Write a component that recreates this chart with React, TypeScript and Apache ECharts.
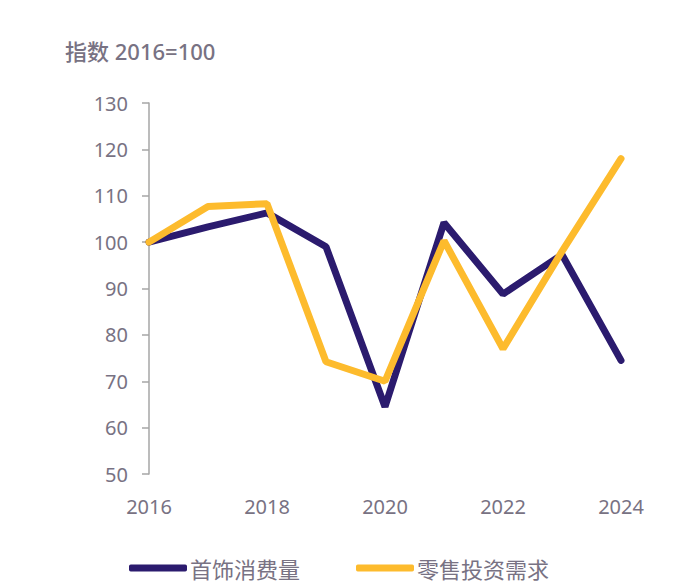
import React, { useEffect, useRef } from "react";
import * as echarts from "echarts";

const years = ["2016", "2017", "2018", "2019", "2020", "2021", "2022", "2023", "2024"];
const jewelleryValues = [100, 103.3, 106.3, 99, 64.5, 104.2, 88.8, 97.3, 74.5];
const retailInvestValues = [100, 107.7, 108.3, 74.2, 70, 100.3, 77, 98, 118];
const seriesNames = ["首饰消费量", "零售投资需求"];
const yAxisTitle = "指数 2016=100";

const TEXT = "#787283";
const FONT = "'Noto Sans', 'Noto Sans CJK SC', sans-serif";

export default function App() {
  const ref = useRef<HTMLDivElement>(null);
  useEffect(() => {
    if (!ref.current) return;
    const chart = echarts.init(ref.current, null, { renderer: "svg" });
    chart.setOption({
      animation: false,
      backgroundColor: "#ffffff",
      textStyle: { fontFamily: FONT },
      title: {
        text: yAxisTitle,
        left: 60,
        top: 35,
        textStyle: { color: TEXT, fontSize: 22, fontWeight: 500, fontFamily: FONT },
      },
      grid: { left: 149, right: 79, top: 103, bottom: 110, containLabel: false },
      legend: {
        left: 124,
        top: 552,
        itemGap: 56,
        itemWidth: 58,
        itemHeight: 7,
        icon: "roundRect",
        textStyle: { color: TEXT, fontSize: 22, fontFamily: "'Noto Sans CJK SC', sans-serif", padding: [0, 0, 0, -2] },
        data: seriesNames,
      },
      xAxis: {
        type: "category",
        data: years,
        boundaryGap: false,
        axisLine: { show: false },
        axisTick: { show: false },
        axisLabel: { interval: 1, color: TEXT, fontSize: 20, margin: 22, fontFamily: FONT },
        splitLine: { show: false },
      },
      yAxis: {
        type: "value",
        min: 50,
        max: 130,
        interval: 10,
        axisLine: { show: true, lineStyle: { color: "#a6a6a6", width: 1.5 } },
        axisTick: { show: true, length: 7, lineStyle: { color: "#a6a6a6", width: 1.5 } },
        axisLabel: { color: TEXT, fontSize: 20, margin: 21, fontFamily: FONT },
        splitLine: { show: false },
      },
      series: [
        {
          name: seriesNames[0],
          type: "line",
          data: jewelleryValues,
          showSymbol: false,
          symbol: "none",
          lineStyle: { color: "#2b1b6e", width: 7, cap: "round" },
          itemStyle: { color: "#2b1b6e" },
          z: 2,
        },
        {
          name: seriesNames[1],
          type: "line",
          data: retailInvestValues,
          showSymbol: false,
          symbol: "none",
          lineStyle: { color: "#fdbb2d", width: 7, cap: "round" },
          itemStyle: { color: "#fdbb2d" },
          z: 3,
        },
      ],
    });
    return () => chart.dispose();
  }, []);
  return <div ref={ref} style={{ width: 700, height: 584, position: "absolute", left: 0, top: 0 }} />;
}
